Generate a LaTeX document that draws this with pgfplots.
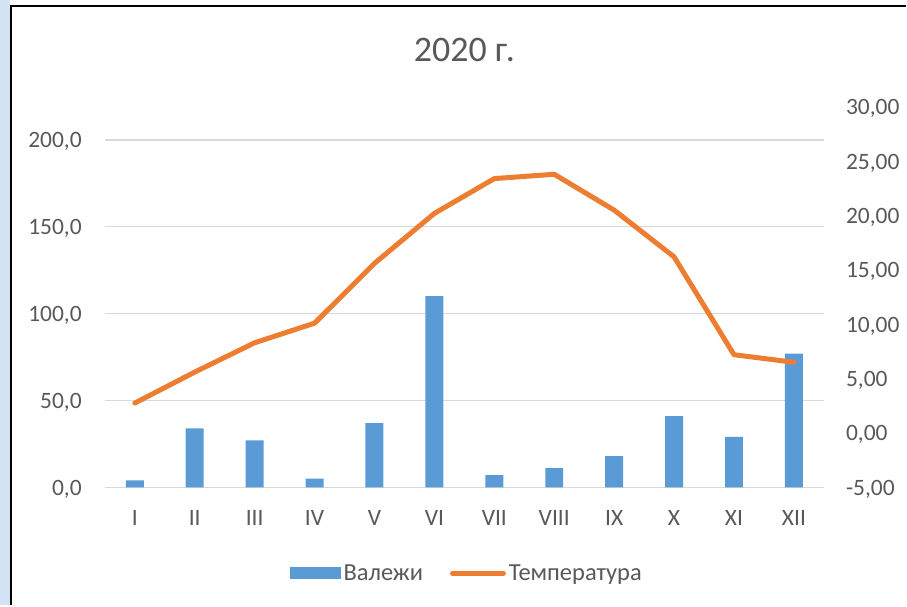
\documentclass[border=0pt]{standalone}
\usepackage{fontspec}
\setmainfont{Carlito}
\usepackage{pgfplots}
\pgfplotsset{compat=1.18}
\definecolor{barblue}{HTML}{5B9BD5}
\definecolor{lineorange}{HTML}{ED7D31}
\definecolor{txtgray}{HTML}{595959}
\definecolor{gridgray}{HTML}{D9D9D9}
\definecolor{stripblue}{HTML}{D3E2F4}

\begin{document}
\begin{tikzpicture}[x=1pt,y=1pt]
% frame of the slide (1px = 1pt)
\fill[white] (0,0) rectangle (907,606);
\fill[stripblue] (0,0) rectangle (10,606);
\draw[black, line width=2.5pt] (11,0) -- (11,600) -- (907,600);
\node[txtgray, font=\fontsize{36}{42}\selectfont, anchor=base] at (465,544) {2020 г.};

\pgfplotsset{
  common/.style={
    scale only axis, width=720pt, height=381pt,
    at={(105pt,118pt)}, anchor=south west,
    xmin=0.5, xmax=12.5,
    major tick length=0pt,
    tick label style={font=\fontsize{23.5}{27}\selectfont, text=txtgray, inner sep=0pt},
    /pgf/number format/assume math mode=true,
  }
}

\begin{axis}[
    common,
    ymin=0, ymax=219,
    ytick={0,50,100,150,200},
    xtick={1,...,12},
    xticklabels={I,II,III,IV,V,VI,VII,VIII,IX,X,XI,XII},
    xticklabel style={anchor=base, yshift=-38pt},
    yticklabel style={anchor=base east, xshift=-23pt, yshift=-8pt},
    yticklabel={\pgfmathprintnumber[fixed, fixed zerofill, precision=1, use comma, 1000 sep={}]{\tick}},
    axis line style={draw=none},
    ymajorgrids, grid style={gridgray, line width=1.3pt},
    legend style={at={(0.504,-0.226)}, anchor=center, draw=none, fill=none,
      legend columns=2, font=\fontsize{24.5}{28}\selectfont, text=txtgray,
      /tikz/every even column/.append style={column sep=24pt},
      nodes={inner sep=3pt}},
  ]
  \addplot[ybar, bar width=18pt, fill=barblue, draw=none,
    legend image code/.code={\fill[barblue] (0pt,-6pt) rectangle (51pt,6pt);}]
    coordinates {
      (1,4) (2,34) (3,27) (4,5) (5,37) (6,110)
      (7,7) (8,11) (9,18) (10,41) (11,29) (12,77)
    };
  \addlegendentry{Валежи}
  \addlegendimage{legend image code/.code={\draw[lineorange, line width=5pt, line cap=round] (2.5pt,0pt) -- (53.5pt,0pt);}}
  \addlegendentry{Температура}
\end{axis}

\begin{axis}[
    common,
    ymin=-5, ymax=30,
    ytick={-5,0,...,30},
    axis x line=none,
    axis y line*=right,
    axis line style={draw=none},
    yticklabel style={anchor=base west, xshift=22pt, yshift=-8pt},
    yticklabel={\pgfmathprintnumber[fixed, fixed zerofill, precision=2, use comma, 1000 sep={}]{\tick}},
  ]
  \addplot[lineorange, line width=5pt, line cap=round, line join=round, mark=none]
    coordinates {
      (1,2.75) (2,5.6) (3,8.3) (4,10.1) (5,15.6) (6,20.2)
      (7,23.4) (8,23.8) (9,20.5) (10,16.2) (11,7.2) (12,6.5)
    };
\end{axis}
\end{tikzpicture}
\end{document}
